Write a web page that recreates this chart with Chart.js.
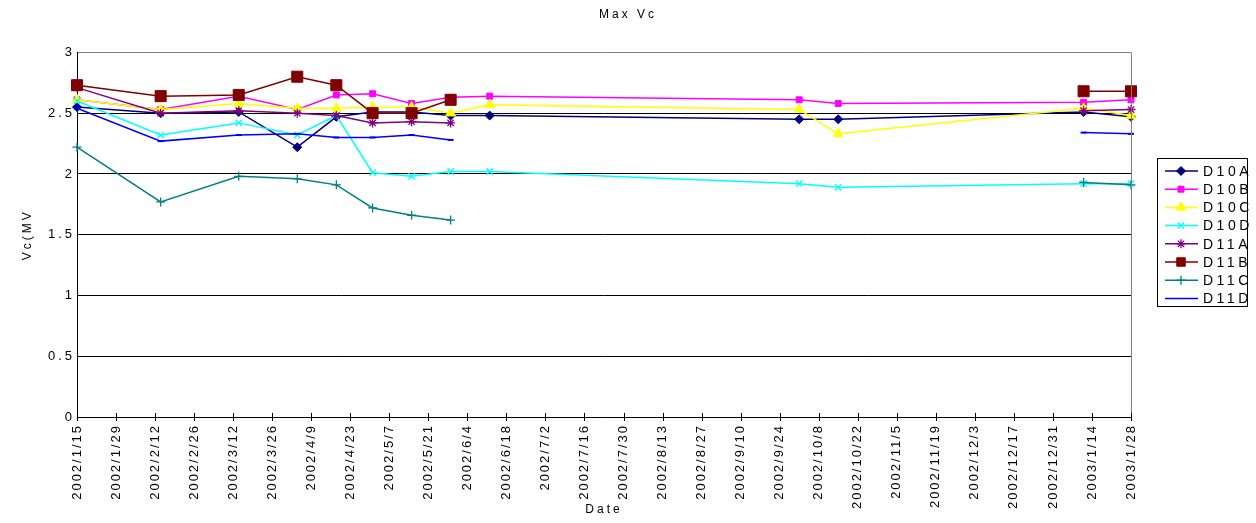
<!DOCTYPE html>
<html>
<head>
<meta charset="utf-8">
<script src="https://cdn.jsdelivr.net/npm/chart.js@4.4.1/dist/chart.umd.min.js"></script>
<style>
html,body{margin:0;padding:0;background:#fff;}
#wrap{width:1256px;height:523px;position:relative;}
</style>
</head>
<body>
<div id="wrap"><canvas id="c" width="1256" height="523"></canvas></div>
<script>
// ---- data ----
const dates = ['2002/1/15','2002/2/14','2002/3/14','2002/4/4','2002/4/18','2002/5/1','2002/5/15',
               '2002/5/29','2002/6/12','2002/10/1','2002/10/15','2003/1/11','2003/1/28'];
const seriesNames = ['D10A','D10B','D10C','D10D','D11A','D11B','D11C','D11D'];
const D10A = [2.55, 2.50, 2.51, 2.22, 2.47, 2.51, 2.51, 2.48, 2.48, 2.45, 2.45, 2.51, 2.47];
const D10B = [2.61, 2.53, 2.64, 2.53, 2.65, 2.66, 2.58, 2.63, 2.64, 2.61, 2.58, 2.59, 2.61];
const D10C = [2.61, 2.53, 2.58, 2.54, 2.54, 2.55, 2.55, 2.50, 2.57, 2.53, 2.33, 2.54, 2.48];
const D10D = [2.60, 2.32, 2.42, 2.32, 2.48, 2.01, 1.98, 2.02, 2.02, 1.92, 1.89, 1.92, 1.92];
const D11A = [2.71, 2.50, 2.52, 2.50, 2.48, 2.42, 2.43, 2.42, null, null, null, 2.52, 2.53];
const D11B = [2.73, 2.64, 2.65, 2.80, 2.73, 2.50, 2.50, 2.61, null, null, null, 2.68, 2.68];
const D11C = [2.22, 1.77, 1.98, 1.96, 1.91, 1.72, 1.66, 1.62, null, null, null, 1.93, 1.91];
const D11D = [2.54, 2.27, 2.32, 2.33, 2.30, 2.30, 2.32, 2.28, null, null, null, 2.34, 2.33];
const xTickLabels = ['2002/1/15','2002/1/29','2002/2/12','2002/2/26','2002/3/12','2002/3/26','2002/4/9',
  '2002/4/23','2002/5/7','2002/5/21','2002/6/4','2002/6/18','2002/7/2','2002/7/16','2002/7/30',
  '2002/8/13','2002/8/27','2002/9/10','2002/9/24','2002/10/8','2002/10/22','2002/11/5','2002/11/19',
  '2002/12/3','2002/12/17','2002/12/31','2003/1/14','2003/1/28'];
const yTickValues = [0, 0.5, 1, 1.5, 2, 2.5, 3];
const chartTitle = 'Max Vc';
const xTitle = 'Date';
const yTitle = 'Vc(MV';

// ---- helpers ----
const BASE = Date.UTC(2002, 0, 15);
function dayOf(s){ const p = s.split('/').map(Number); return Math.round((Date.UTC(p[0], p[1]-1, p[2]) - BASE) / 86400000); }
const xTickValues = xTickLabels.map(dayOf);
const seriesValues = [D10A, D10B, D10C, D10D, D11A, D11B, D11C, D11D];

const styles = [
  {c:'#000080', ps:'rectRot',  r:4.5, bw:1},
  {c:'#FF00FF', ps:'rect',     r:4.2, bw:1},
  {c:'#FFFF00', ps:'triangle', r:5.5, bw:1},
  {c:'#00FFFF', ps:'crossRot', r:4.5, bw:1.3},
  {c:'#800080', ps:'star',     r:4.5, bw:1.3},
  {c:'#800000', ps:'rect',     r:7.8, bw:1},
  {c:'#008080', ps:'cross',    r:4.5, bw:1.3},
  {c:'#0000FF', ps:'line',     r:3,   bw:2}
];

const datasets = seriesNames.map((name, i) => ({
  label: name,
  data: dates.map((d, k) => ({x: dayOf(d), y: seriesValues[i][k]})),
  borderColor: styles[i].c,
  backgroundColor: styles[i].c,
  pointBackgroundColor: styles[i].c,
  pointBorderColor: styles[i].c,
  pointStyle: styles[i].ps,
  pointRadius: styles[i].r,
  pointHoverRadius: styles[i].r,
  pointBorderWidth: styles[i].bw,
  borderWidth: 1.5,
  tension: 0,
  spanGaps: false,
  clip: false,
  order: seriesNames.length - i
}));

const FAMILY = "'Liberation Sans', Arial, sans-serif";
Chart.defaults.font.family = FAMILY;
Chart.defaults.color = '#000';

const spacingPlugin = {
  id: 'spacing',
  beforeLayout(chart){ chart.ctx.letterSpacing = '3px'; },
  beforeDraw(chart){
    chart.ctx.letterSpacing = '3px';
    const s = chart.scales.x;
    if (s && !s._lsPatched) {
      const orig = s.drawLabels.bind(s);
      s.drawLabels = function(area){
        const ctx = chart.ctx; ctx.save(); ctx.letterSpacing = '2px'; orig(area); ctx.restore();
      };
      s._lsPatched = true;
    }
  }
};

const framePlugin = {
  id: 'frame',
  afterDraw(chart){
    const ctx = chart.ctx, a = chart.chartArea, xs = chart.scales.x;
    ctx.save();
    // right border
    ctx.strokeStyle = '#808080'; ctx.lineWidth = 1;
    ctx.beginPath(); ctx.moveTo(Math.round(a.right)+0.5, a.top); ctx.lineTo(Math.round(a.right)+0.5, a.bottom); ctx.stroke();
    // crossing tick marks on the date axis
    ctx.strokeStyle = '#000';
    xs.ticks.forEach(t => {
      const px = Math.round(xs.getPixelForValue(t.value)) + 0.5;
      ctx.beginPath(); ctx.moveTo(px, a.bottom - 4); ctx.lineTo(px, a.bottom + 4); ctx.stroke();
    });
    // legend
    const lx = 1157, ly = 158, lw = 90, lh = 148;
    ctx.strokeStyle = '#000'; ctx.lineWidth = 1;
    ctx.strokeRect(lx + 0.5, ly + 0.5, lw, lh);
    ctx.font = "14px " + FAMILY;
    ctx.letterSpacing = '3.5px';
    ctx.textAlign = 'left'; ctx.textBaseline = 'middle';
    chart.data.datasets.forEach((ds, i) => {
      const y = 171 + i * 18.2;
      ctx.strokeStyle = ds.borderColor; ctx.lineWidth = 1.5;
      ctx.beginPath(); ctx.moveTo(1165, y); ctx.lineTo(1198, y); ctx.stroke();
      if (ds.pointStyle !== 'line' && Chart.helpers && Chart.helpers.drawPoint) {
        ctx.fillStyle = ds.pointBackgroundColor; ctx.strokeStyle = ds.pointBorderColor;
        ctx.lineWidth = ds.pointBorderWidth;
        const r = Math.min(ds.pointRadius, 6);
        Chart.helpers.drawPoint(ctx, {pointStyle: ds.pointStyle, radius: r, rotation: 0, borderWidth: ds.pointBorderWidth}, 1181, y);
      }
      ctx.fillStyle = '#000';
      ctx.fillText(ds.label, 1203, y + 1);
    });
    ctx.restore();
  }
};

new Chart(document.getElementById('c'), {
  type: 'line',
  data: { datasets },
  options: {
    responsive: false,
    animation: false,
    events: [],
    layout: { padding: { left: 0, right: 0, top: 0, bottom: 0 } },
    plugins: {
      legend: { display: false },
      tooltip: { enabled: false },
      title: { display: true, text: chartTitle, color: '#000',
               font: { size: 12, weight: 'normal' }, padding: { top: 7, bottom: 31 } }
    },
    scales: {
      x: {
        type: 'linear',
        min: xTickValues[0],
        max: xTickValues[xTickValues.length - 1],
        afterBuildTicks(s){ s.ticks = xTickValues.map(v => ({ value: v })); },
        afterFit(s){ s.height = 106; },
        ticks: {
          autoSkip: false, minRotation: 90, maxRotation: 90, padding: -1,
          font: { size: 13 }, color: '#000',
          callback(v){ const k = xTickValues.indexOf(v); return k >= 0 ? xTickLabels[k] : ''; }
        },
        grid: { display: false },
        border: { display: true, color: '#000', width: 1 },
        title: { display: true, text: xTitle, color: '#000', font: { size: 12 }, padding: { top: 0, bottom: 6 } }
      },
      y: {
        min: 0, max: 3,
        afterBuildTicks(s){ s.ticks = yTickValues.map(v => ({ value: v })); },
        afterFit(s){ s.width = 77; },
        ticks: { font: { size: 13 }, color: '#000', padding: 2, callback: v => String(v) },
        grid: { drawTicks: false, lineWidth: 1,
                color: c => (c.tick && c.tick.value === 3) ? '#808080' : '#000' },
        border: { display: true, color: '#000', width: 1 },
        title: { display: true, text: yTitle, color: '#000', font: { size: 12 }, padding: { top: 20, bottom: 0 } }
      },
      legendSpace: {
        type: 'linear', position: 'right', display: true,
        afterFit(s){ s.width = 125; },
        ticks: { display: false },
        grid: { display: false },
        border: { display: false }
      }
    }
  },
  plugins: [spacingPlugin, framePlugin]
});
</script>
</body>
</html>
